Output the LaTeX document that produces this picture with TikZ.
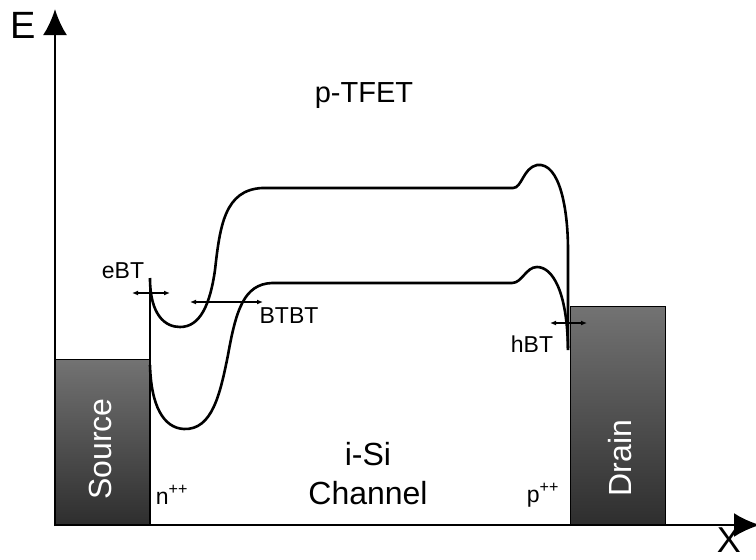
\documentclass[tikz,border=0pt]{standalone}
\usepackage{fontspec}
\setmainfont{Liberation Sans}
\usetikzlibrary{arrows.meta}

\begin{document}
\begin{tikzpicture}[x=1pt, y=-1pt,
    band/.style={line width=2.6pt},
    axis/.style={line width=2.6pt, -{Latex[length=26pt,width=24pt]}},
    tunnel/.style={line width=1.2pt, {Latex[length=6pt,width=5pt]}-{Latex[length=6pt,width=5pt]}},
    contact/.style={draw=black, line width=1pt, top color=black!55, bottom color=black!82},
    big/.style={font=\fontsize{32}{32}\selectfont, anchor=base},
    mid/.style={font=\fontsize{29}{29}\selectfont, anchor=base},
    small/.style={font=\fontsize{23}{23}\selectfont, anchor=base}]
      \useasboundingbox (0,0) rectangle (756,560);
      % contacts
      \draw[contact] (55,359) rectangle (150,525);
      \draw[contact] (570,306) rectangle (665,525);
      \draw[line width=1.5pt] (150,280) -- (150,525);
      % axes
      \draw[axis] (55,526) -- (55,9);
      \draw[axis] (54,525) -- (760,525);
      % bands
      \draw[band] (150,278) .. controls (150,315) and (165,327) .. (180,327)
        .. controls (200,327) and (210,305) .. (215,270)
        .. controls (220,225) and (225,190) .. (262,188) -- (513,188)
        .. controls (522,188) and (523,168) .. (537,165)
        .. controls (560,162) and (568,210) .. (568,250) -- (568,350);
      \draw[band] (150,365) .. controls (151,405) and (163,428) .. (184,429)
        .. controls (212,430) and (220,395) .. (228,355)
        .. controls (236,310) and (244,284) .. (272,283) -- (512,283)
        .. controls (522,283) and (526,267) .. (537,267)
        .. controls (552,267) and (567,290) .. (568,348);
      % tunnelling paths
      \coordinate (eL) at (132,293);
      \coordinate (eR) at (170,293);
      \coordinate (bL) at (190,302);
      \coordinate (bR) at (263,302);
      \coordinate (hL) at (550,323);
      \coordinate (hR) at (587,323);
      \draw[tunnel] (eL) -- (eR);
      \draw[tunnel] (bL) -- (bR);
      \draw[tunnel] (hL) -- (hR);
      % labels
      \node[small] (ebt) at (123,278) {eBT};
      \node[small] (btbt) at (289,323) {BTBT};
      \node[small] (hbt) at (532,352) {hBT};
      \node[mid] (title) at (364,102) {p-TFET};
      \node[big] (isi) at (368,465) {i-Si};
      \node[big] (chan) at (368,504) {Channel};
      \node[small] (nlbl) at (172,504) {n\textsuperscript{++}};
      \node[small] (plbl) at (543,502) {p\textsuperscript{++}};
      \node[font=\fontsize{32}{32}\selectfont, white, rotate=90] (src) at (100,449) {Source};
      \node[font=\fontsize{32}{32}\selectfont, white, rotate=90] (drn) at (620,458) {Drain};
      \node[font=\fontsize{38}{38}\selectfont, anchor=base] (elbl) at (23,38) {E};
      \node[font=\fontsize{36}{36}\selectfont, anchor=base] (xlbl) at (729,552) {X};
    \end{tikzpicture}
\end{document}
